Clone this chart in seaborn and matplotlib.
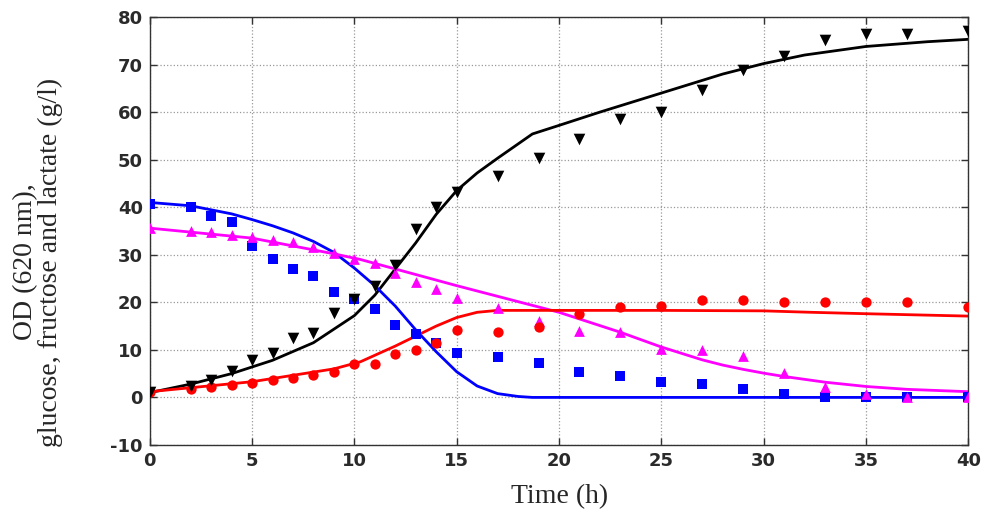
import numpy as np
import pandas as pd
import matplotlib
matplotlib.use("Agg")
import matplotlib.pyplot as plt
import seaborn as sns

# ---- measured data (markers) ----
t_meas = [0, 2, 3, 4, 5, 6, 7, 8, 9, 10, 11, 12, 13, 14, 15, 17, 19, 21, 23, 25, 27, 29, 31, 33, 35, 37, 40]
od_meas = [1.2, 2.5, 3.6, 5.6, 7.9, 9.4, 12.5, 13.5, 17.7, 20.8, 23.5, 27.9, 35.4, 40.0, 43.2, 46.5, 50.4,
           54.4, 58.5, 60.0, 64.6, 68.8, 71.9, 75.2, 76.5, 76.5, 77.1]
glc_meas = [40.6, 40.0, 38.1, 36.9, 31.9, 29.2, 27.1, 25.6, 22.1, 20.8, 18.5, 15.2, 13.3, 11.5, 9.4, 8.4, 7.3,
            5.4, 4.6, 3.3, 2.9, 1.7, 0.8, 0.0, 0.0, 0.0, 0.0]
fru_meas = [35.7, 35.0, 34.8, 34.2, 33.8, 33.1, 32.7, 31.7, 30.4, 29.2, 28.3, 26.2, 24.2, 22.9, 21.0, 18.7, 16.1,
            14.0, 13.8, 10.2, 10.0, 8.8, 5.2, 2.1, 0.8, 0.0, 0.0]
lac_meas = [1.2, 1.8, 2.2, 2.6, 3.1, 3.6, 4.1, 4.7, 5.4, 7.0, 7.1, 9.2, 10.0, 11.5, 14.2, 13.7, 14.8,
            17.5, 19.0, 19.2, 20.4, 20.4, 20.0, 20.0, 20.0, 20.0, 19.0]

# ---- model curves (lines) ----
t_od = [0, 2, 4, 6, 8, 10, 11, 12, 13, 14, 15, 16, 17, 18, 18.7, 20, 22, 25, 28, 30, 32, 35, 38, 40]
od_model = [1.0, 2.8, 5.0, 7.8, 11.5, 17.2, 21.5, 27.0, 32.5, 38.5, 43.5, 47.2, 50.3, 53.3, 55.4, 57.2, 60.0,
            64.0, 68.0, 70.2, 72.0, 73.8, 74.8, 75.3]
t_glc = [0, 2, 4, 5, 6, 7, 8, 9, 10, 11, 12, 13, 14, 15, 16, 17, 18, 18.7, 25, 30, 35, 40]
glc_model = [41.0, 40.3, 38.6, 37.4, 36.1, 34.6, 32.8, 30.5, 27.2, 23.5, 19.2, 14.2, 9.6, 5.4, 2.4, 0.8, 0.2,
             0.0, 0.0, 0.0, 0.0, 0.0]
t_fru = [0, 5, 9, 10.3, 15, 20, 21, 23, 25, 27, 28, 29, 30, 31, 33, 35, 37, 40]
fru_model = [35.6, 33.5, 30.2, 29.0, 23.5, 17.9, 16.5, 13.7, 10.6, 7.9, 6.8, 5.9, 5.1, 4.4, 3.2, 2.3, 1.7, 1.2]
t_lac = [0, 5, 9, 10.3, 12, 13, 14, 15, 16, 17, 19, 21, 25, 30, 32.3, 35, 40]
lac_model = [1.2, 3.3, 6.0, 7.5, 10.8, 12.9, 15.0, 16.8, 17.9, 18.3, 18.3, 18.3, 18.3, 18.2, 17.9, 17.6, 17.1]

x_ticks = [0, 5, 10, 15, 20, 25, 30, 35, 40]
y_ticks = [-10, 0, 10, 20, 30, 40, 50, 60, 70, 80]

sns.set_style("white")
plt.rcParams["axes.unicode_minus"] = False

fig = plt.figure(figsize=(9.85, 5.15), dpi=100)
ax = fig.add_axes([0.152, 0.136, 0.831, 0.831])

BLUE, RED, MAG, BLACK = "#0000FF", "#FF0000", "#FF00FF", "#000000"

sns.lineplot(x=t_od, y=od_model, ax=ax, color=BLACK, lw=2.0, sort=False, estimator=None)
sns.lineplot(x=t_glc, y=glc_model, ax=ax, color=BLUE, lw=2.0, sort=False, estimator=None)
sns.lineplot(x=t_fru, y=fru_model, ax=ax, color=MAG, lw=2.0, sort=False, estimator=None)
sns.lineplot(x=t_lac, y=lac_model, ax=ax, color=RED, lw=2.0, sort=False, estimator=None)

sns.scatterplot(x=t_meas, y=glc_meas, ax=ax, color=BLUE, marker="s", s=45, edgecolor=BLUE, linewidth=0, zorder=5)
sns.scatterplot(x=t_meas, y=fru_meas, ax=ax, color=MAG, marker="^", s=60, edgecolor=MAG, linewidth=0, zorder=5)
sns.scatterplot(x=t_meas, y=lac_meas, ax=ax, color=RED, marker="o", s=55, edgecolor=RED, linewidth=0, zorder=5)
sns.scatterplot(x=t_meas, y=od_meas, ax=ax, color=BLACK, marker="v", s=70, edgecolor=BLACK, linewidth=0, zorder=6)

ax.set_xlim(0, 40)
ax.set_ylim(-10, 80)
ax.set_xticks(x_ticks)
ax.set_yticks(y_ticks)
ax.tick_params(direction="in", length=5, width=1, labelsize=13, colors="#333333",
               top=True, right=True, bottom=True, left=True, pad=5)
for lbl in ax.get_xticklabels() + ax.get_yticklabels():
    lbl.set_family("DejaVu Sans")
    lbl.set_fontweight("bold")
    lbl.set_color("#2a2a2a")
ax.grid(True, linestyle=":", color="#999999", linewidth=0.9)
for sp in ax.spines.values():
    sp.set_color("#333333")
    sp.set_linewidth(1.0)
    sp.set_visible(True)

ax.set_xlabel("")
ax.set_ylabel("")
fig.text(560 / 985, 1 - 497 / 515, "Time (h)", family="Liberation Serif", fontsize=20,
         ha="center", va="center")
fig.text(38 / 985, 1 - 262 / 515, "OD (620 nm),\nglucose, fructose and lactate (g/l)",
         family="Liberation Serif", fontsize=20, rotation=90, ha="center", va="center",
         multialignment="center", linespacing=1.0)

fig.savefig("out.png", dpi=100)
